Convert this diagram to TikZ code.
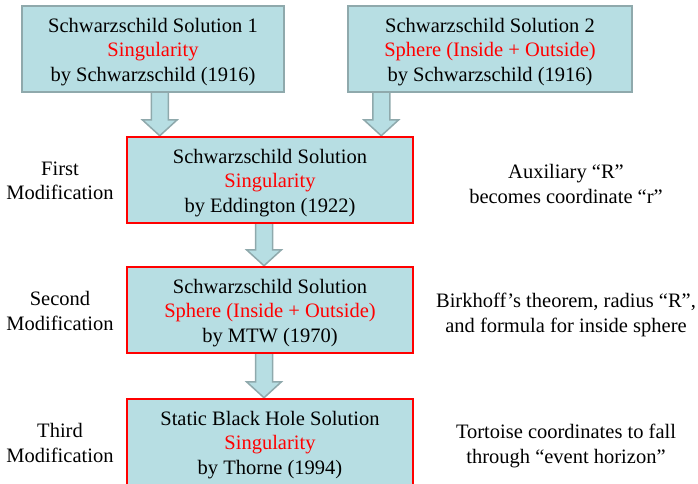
\documentclass[tikz,border=0pt]{standalone}
\usepackage{fontspec}
\setmainfont{Liberation Serif}
\usepackage{tikz}
\usetikzlibrary{calc,backgrounds}

\definecolor{boxfill}{HTML}{B7DEE3}
\definecolor{boxline}{HTML}{8FA9AC}

\tikzset{
  solbox/.style={rectangle,draw=boxline,line width=1.5pt,fill=boxfill,
    align=center,inner sep=0pt,minimum height=86pt,
    font=\fontsize{20.5}{24.5}\selectfont},
  modbox/.style={solbox,draw=red,line width=2.5pt,minimum width=286pt},
  note/.style={align=center,font=\fontsize{20.5}{24.5}\selectfont},
  blockarrow/.style={draw=boxline,line width=1.5pt,fill=boxfill,line join=miter}
}

% extra room above the first line of a box
\newcommand{\topline}{\rule{0pt}{20pt}}

% fat arrow from the bottom of #1 down to the point #2
\newcommand{\blockarrow}[2]{%
  \draw[blockarrow] let \p1=(#1.south), \p2=(#2) in
    (\x2-8.5pt,\y1+3pt) -- (\x2-8.5pt,\y2+16pt) -- (\x2-17.5pt,\y2+16pt)
    -- (\x2,\y2) -- (\x2+17.5pt,\y2+16pt) -- (\x2+8.5pt,\y2+16pt)
    -- (\x2+8.5pt,\y1+3pt) -- cycle;}

\begin{document}
\begin{tikzpicture}[x=1pt,y=-1pt]
\useasboundingbox (0,0) rectangle (698,483);

\node [solbox,minimum width=262pt] (sol1) at (153,49)
  {\topline Schwarzschild Solution 1\\ \textcolor{red}{Singularity}\\ by Schwarzschild (1916)};
\node [solbox,minimum width=284pt] (sol2) at (490,49)
  {\topline Schwarzschild Solution 2\\ \textcolor{red}{Sphere (Inside + Outside)}\\ by Schwarzschild (1916)};

\node [modbox] (edd) at (270,180)
  {\topline Schwarzschild Solution\\ \textcolor{red}{Singularity}\\ by Eddington (1922)};
\node [modbox] (mtw) at (270,310)
  {\topline Schwarzschild Solution\\ \textcolor{red}{Sphere (Inside + Outside)}\\ by MTW (1970)};
\node [modbox] (thorne) at (270,442)
  {\topline Static Black Hole Solution\\ \textcolor{red}{Singularity}\\ by Thorne (1994)};

\node [note] (first) at (60,181) {First\\ Modification};
\node [note] (second) at (60,311) {Second\\ Modification};
\node [note] (third) at (60,443) {Third\\ Modification};

\node [note] (aux) at (566,184) {Auxiliary “R”\\ becomes coordinate “r”};
\node [note] (birk) at (566,315) {Birkhoff’s theorem, radius “R”,\\ and formula for inside sphere};
\node [note] (tort) at (566,446) {Tortoise coordinates to fall\\ through “event horizon”};

\begin{scope}[on background layer]
\blockarrow{sol1}{$(edd.north west)+(34,0)$}
\blockarrow{sol2}{$(edd.north east)+(-33,0)$}
\blockarrow{edd}{$(mtw.north)+(-6,0)$}
\blockarrow{mtw}{$(thorne.north)+(-6,0)$}
\end{scope}
\end{tikzpicture}
\end{document}
